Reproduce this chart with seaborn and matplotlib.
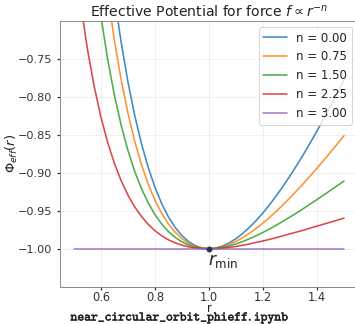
import matplotlib
matplotlib.use("Agg")
import matplotlib.pyplot as plt
import matplotlib.patheffects as pe
import seaborn as sns
import pandas as pd

# ---- data ----
r_vals = [0.500, 0.525, 0.550, 0.575, 0.600, 0.625, 0.650, 0.675, 0.700, 0.725,
          0.750, 0.775, 0.800, 0.825, 0.850, 0.875, 0.900, 0.925, 0.950, 0.975,
          1.000, 1.025, 1.050, 1.075, 1.100, 1.125, 1.150, 1.175, 1.200, 1.225,
          1.250, 1.275, 1.300, 1.325, 1.350, 1.375, 1.400, 1.425, 1.450, 1.475,
          1.500]

phi_n000 = [0.0, -0.1609, -0.2971, -0.4127, -0.5111, -0.5950, -0.6666, -0.7276, -0.7796, -0.8238,
            -0.8611, -0.8925, -0.9188, -0.9404, -0.9580, -0.9719, -0.9827, -0.9906, -0.9960, -0.9990,
            -1.0000, -0.9991, -0.9965, -0.9923, -0.9868, -0.9799, -0.9719, -0.9628, -0.9528, -0.9418,
            -0.9300, -0.9174, -0.9041, -0.8902, -0.8757, -0.8605, -0.8449, -0.8288, -0.8122, -0.7952,
            -0.7778]

phi_n075 = [-0.1364, -0.2810, -0.4024, -0.5045, -0.5907, -0.6634, -0.7250, -0.7770, -0.8208, -0.8578,
            -0.8887, -0.9145, -0.9358, -0.9532, -0.9673, -0.9782, -0.9867, -0.9928, -0.9970, -0.9992,
            -1.0000, -0.9993, -0.9974, -0.9943, -0.9904, -0.9854, -0.9797, -0.9732, -0.9662, -0.9586,
            -0.9505, -0.9419, -0.9329, -0.9236, -0.9141, -0.9040, -0.8939, -0.8835, -0.8728, -0.8620,
            -0.8511]

phi_n150 = [-0.3284, -0.4462, -0.5439, -0.6252, -0.6931, -0.7498, -0.7973, -0.8369, -0.8701, -0.8977,
            -0.9205, -0.9393, -0.9549, -0.9673, -0.9773, -0.9850, -0.9909, -0.9951, -0.9980, -0.9995,
            -1.0000, -0.9996, -0.9983, -0.9963, -0.9937, -0.9905, -0.9869, -0.9829, -0.9785, -0.9738,
            -0.9689, -0.9636, -0.9582, -0.9527, -0.9470, -0.9411, -0.9352, -0.9292, -0.9231, -0.9170,
            -0.9108]

phi_n225 = [-0.6027, -0.6761, -0.7362, -0.7854, -0.8261, -0.8596, -0.8873, -0.9102, -0.9291, -0.9446,
            -0.9573, -0.9677, -0.9761, -0.9829, -0.9882, -0.9922, -0.9953, -0.9975, -0.9990, -0.9997,
            -1.0000, -0.9998, -0.9992, -0.9982, -0.9970, -0.9954, -0.9937, -0.9917, -0.9898, -0.9876,
            -0.9853, -0.9829, -0.9804, -0.9780, -0.9755, -0.9728, -0.9702, -0.9676, -0.9650, -0.9624,
            -0.9597]

phi_n300 = [-1.0] * len(r_vals)

series_labels = ["n = 0.00", "n = 0.75", "n = 1.50", "n = 2.25", "n = 3.00"]
series_values = [phi_n000, phi_n075, phi_n150, phi_n225, phi_n300]
series_colors = ["#1f77b4", "#ff7f0e", "#2ca02c", "#d62728", "#9467bd"]

rmin_r = [1.0]
rmin_phi = [-1.0]

x_ticks = [0.6, 0.8, 1.0, 1.2, 1.4]
y_ticks = [-1.00, -0.95, -0.90, -0.85, -0.80, -0.75]

title_text = r"Effective Potential for force $f \propto r^{-n}$"
file_text = r"$\mathtt{near\_circular\_orbit\_phieff.ipynb}$"

# ---- style ----
sns.set_theme(style="whitegrid", rc={
    "axes.edgecolor": "#8c8c8c",
    "axes.linewidth": 1.0,
    "grid.color": "#ebebeb",
    "grid.linewidth": 0.8,
    "xtick.bottom": True,
    "ytick.left": True,
    "xtick.major.size": 3,
    "ytick.major.size": 3,
    "xtick.color": "#333333",
    "ytick.color": "#333333",
    "axes.labelcolor": "#222222",
    "text.color": "#222222",
})
plt.rcParams["font.family"] = ["DejaVu Sans"]
plt.rcParams["mathtext.fontset"] = "dejavusans"

df = pd.concat(
    [pd.DataFrame({"r": r_vals, "phi": v, "series": lab})
     for lab, v in zip(series_labels, series_values)],
    ignore_index=True)

W, H = 355, 324
fig = plt.figure(figsize=(W / 72, H / 72), dpi=72)
ax_w = (357.5 - 60.3)
ax = fig.add_axes([60.3 / W, 1 - 286.7 / H, ax_w / W, (286.7 - 21.0) / H])

sns.lineplot(data=df, x="r", y="phi", hue="series", hue_order=series_labels,
             palette=series_colors, linewidth=1.6, alpha=0.85, estimator=None,
             sort=False, ax=ax)

ax.scatter(rmin_r, rmin_phi, s=24, color="#2f2f4f", zorder=6)
ax.annotate(r"$r_{\rm min}$", xy=(rmin_r[0], rmin_phi[0]), xytext=(-1, -3.5),
            textcoords="offset points", ha="left", va="top", fontsize=17)

ax.set_xlim(0.45, 1.55)
ax.set_ylim(-1.05, -0.70)
ax.set_xticks(x_ticks)
ax.set_yticks(y_ticks)
ax.tick_params(axis="x", labelsize=11.5, pad=1.5)
ax.tick_params(axis="y", labelsize=11.3, pad=5.5)
ax.set_xlabel("r", fontsize=11.5, labelpad=-2)
ax.set_ylabel(r"$\Phi_{eff}(r)$", fontsize=13)
ax.yaxis.set_label_coords((20.0 - 60.3) / ax_w, 0.5)
ax.set_title(title_text, fontsize=14, pad=4)

sns.move_legend(ax, "upper right", title=None, frameon=True, fontsize=11.7)

fig.text(180 / W, 1 - 318 / H, file_text, ha="center", va="center",
         fontsize=13, math_fontfamily="cm", color="#222222",
         path_effects=[pe.withStroke(linewidth=0.5, foreground="#222222")])

fig.savefig("out.png", dpi=72)
